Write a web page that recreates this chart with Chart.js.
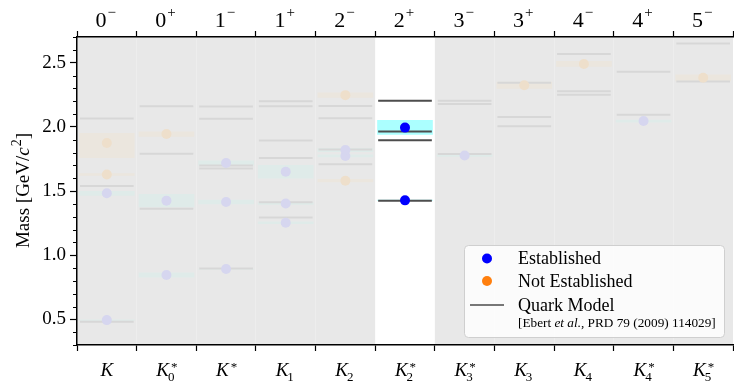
<!DOCTYPE html>
<html>
<head>
<meta charset="utf-8">
<script src="https://cdn.jsdelivr.net/npm/chart.js@4.4.0/dist/chart.umd.min.js"></script>
<style>
  html, body { margin: 0; padding: 0; overflow: hidden; background: #fff; }
</style>
</head>
<body>
<canvas id="kaons" width="738" height="382"></canvas>
<script>
'use strict';

// columns of the plot: particle names (bottom) and J^P (top)
const particles = ['K', 'K_0^*', 'K^*', 'K_1', 'K_2', 'K_2^*', 'K_3^*', 'K_3', 'K_4', 'K_4^*', 'K_5^*'];
const spinParity = ['0-', '0+', '1-', '1+', '2-', '2+', '3-', '3+', '4-', '4+', '5-'];
const highlight = 5;

// established states (GeV)
const estColumn = [0, 0, 1, 1, 2, 2, 2, 3, 3, 3, 4, 4, 5, 5, 6, 9];
const estMass = [0.494, 1.482, 0.845, 1.425, 0.892, 1.414, 1.718, 1.253, 1.403, 1.650, 1.773, 1.819, 1.427, 1.994, 1.776, 2.045];
const estLow = [0.4925, 1.466, 0.828, 1.375, 0.8915, 1.399, 1.700, 1.246, 1.396, 1.600, 1.765, 1.807, 1.4258, 1.940, 1.769, 2.037];
const estHigh = [0.4955, 1.498, 0.862, 1.475, 0.8925, 1.429, 1.736, 1.260, 1.410, 1.700, 1.781, 1.831, 1.4288, 2.050, 1.783, 2.053];

// not established states (GeV)
const nestColumn = [0, 0, 1, 4, 4, 7, 8, 10];
const nestMass = [1.629, 1.874, 1.944, 1.580, 2.247, 2.324, 2.490, 2.382];
const nestLow = [1.622, 1.760, 1.926, 1.570, 2.230, 2.300, 2.470, 2.358];
const nestHigh = [1.636, 1.950, 1.962, 1.590, 2.264, 2.348, 2.510, 2.406];

// quark model predictions, Ebert et al.
const qmColumn = [0, 0, 0, 1, 1, 1, 2, 2, 2, 2, 2, 3, 3, 3, 3, 3, 3, 4, 4, 4, 4, 5, 5, 5, 5, 6, 6, 6, 7, 7, 7, 8, 8, 8, 9, 9, 10, 10];
const qmMass = [0.482, 1.538, 2.065, 1.362, 1.791, 2.160, 0.897, 1.675, 1.699, 2.063, 2.159,
  1.294, 1.412, 1.757, 1.893, 2.160, 2.200, 1.709, 1.824, 2.066, 2.163,
  1.424, 1.896, 1.964, 2.203, 1.789, 2.177, 2.203, 2.004, 2.076, 2.343,
  2.250, 2.278, 2.567, 2.095, 2.430, 2.353, 2.650];

const legendLabels = ['Established', 'Not Established', 'Quark Model'];
const legendNote = '[Ebert et al., PRD 79 (2009) 114029]';

const serif = '"Liberation Serif", "DejaVu Serif", serif';
const half = 0.45;

const isHi = (x) => Math.round(x) === highlight;

const estPoints = estColumn.map((c, i) => ({x: c, y: estMass[i]}));
const nestPoints = nestColumn.map((c, i) => ({x: c, y: nestMass[i]}));
const estBands = estColumn.map((c, i) => ({x: c, y: [estLow[i], estHigh[i]]}));
const nestBands = nestColumn.map((c, i) => ({x: c, y: [nestLow[i], nestHigh[i]]}));
const qmSegments = qmColumn.flatMap((c, i) => [
  {x: c - half, y: qmMass[i]}, {x: c + half, y: qmMass[i]}, {x: c, y: null}
]);

function drawScripted(ctx, main, sub, sup, x, base, mainFont, scriptFont, subDy, supDy, italic) {
  ctx.font = mainFont;
  const wm = ctx.measureText(main).width;
  ctx.font = scriptFont;
  const ws = Math.max(sub ? ctx.measureText(sub).width : 0, sup ? ctx.measureText(sup).width : 0);
  const gap = (sub || sup) ? 1 : 0;
  const left = x - (wm + gap + ws) / 2;
  ctx.textAlign = 'left';
  ctx.textBaseline = 'alphabetic';
  ctx.font = mainFont;
  ctx.fillText(main, left, base);
  ctx.font = scriptFont;
  if (sub) ctx.fillText(sub, left + wm + gap - (italic ? 2 : 0), base + subDy);
  if (sup) ctx.fillText(sup, left + wm + gap + (italic ? 1 : 0), base + supDy);
}

const backdrop = {
  id: 'backdrop',
  beforeDraw(chart) {
    const {ctx, chartArea: a, scales: {x}} = chart;
    ctx.save();
    ctx.fillStyle = '#e8e8e8';
    ctx.fillRect(a.left, a.top, a.right - a.left, a.bottom - a.top);
    const x0 = x.getPixelForValue(highlight - 0.5);
    const x1 = x.getPixelForValue(highlight + 0.5);
    ctx.fillStyle = '#ffffff';
    ctx.fillRect(x0, a.top, x1 - x0, a.bottom - a.top);
    ctx.restore();
  }
};

const decorations = {
  id: 'decorations',
  afterDraw(chart) {
    const {ctx, chartArea: a, scales: {x, y}} = chart;
    ctx.save();
    ctx.fillStyle = '#000';

    // minor ticks on mass axis
    ctx.strokeStyle = '#000';
    ctx.lineWidth = 1;
    for (let k = 3; k <= 27; k++) {
      if (k % 5 === 0) continue;
      const py = Math.round(y.getPixelForValue(k / 10)) + 0.5;
      ctx.beginPath();
      ctx.moveTo(a.left - 4, py);
      ctx.lineTo(a.left, py);
      ctx.stroke();
    }

    // J^P labels on top
    spinParity.forEach((lab, i) => {
      const px = x.getPixelForValue(i);
      const sign = lab[1] === '-' ? '\u2212' : '+';
      drawScripted(ctx, lab[0], null, sign, px - 1, 27, '22px ' + serif, '15px ' + serif, 0, -10, false);
    });

    // particle names at the bottom
    particles.forEach((lab, i) => {
      const px = x.getPixelForValue(i);
      const sub = (lab.match(/_(\d)/) || [])[1] || null;
      const sup = lab.includes('^*') ? '*' : null;
      drawScripted(ctx, 'K', sub, sup, px, 376, 'italic 19px ' + serif, '13px ' + serif, 4.5, -5, true);
    });

    // y axis title
    ctx.save();
    ctx.translate(29, (a.top + a.bottom) / 2);
    ctx.rotate(-Math.PI / 2);
    const parts = [['Mass [GeV/', '19px ', 0], ['c', 'italic 19px ', 0], ['2', '14px ', -8], [']', '19px ', 0]];
    let total = 0;
    parts.forEach(p => { ctx.font = p[1] + serif; total += ctx.measureText(p[0]).width; });
    let cx = -total / 2;
    ctx.textAlign = 'left';
    parts.forEach(p => {
      ctx.font = p[1] + serif;
      ctx.fillText(p[0], cx, p[2]);
      cx += ctx.measureText(p[0]).width + (p[0] === 'c' ? 1 : 0);
    });
    ctx.restore();

    // legend box
    const lw = 260, lh = 92;
    const lx = a.right - 9 - lw, ly = a.bottom - 8 - lh;
    ctx.beginPath();
    ctx.roundRect(lx + 0.5, ly + 0.5, lw, lh, 4);
    ctx.fillStyle = 'rgba(255,255,255,0.8)';
    ctx.fill();
    ctx.strokeStyle = '#cfcfcf';
    ctx.lineWidth = 1;
    ctx.stroke();

    const mx = lx + 23, tx = lx + 54;
    ctx.fillStyle = '#0000ff';
    ctx.beginPath(); ctx.arc(mx, ly + 13.5, 5, 0, Math.PI * 2); ctx.fill();
    ctx.fillStyle = '#ff7f0e';
    ctx.beginPath(); ctx.arc(mx, ly + 36, 5, 0, Math.PI * 2); ctx.fill();
    ctx.strokeStyle = '#777777';
    ctx.lineWidth = 2;
    ctx.beginPath(); ctx.moveTo(lx + 6, ly + 60); ctx.lineTo(lx + 40, ly + 60); ctx.stroke();

    ctx.fillStyle = '#000';
    ctx.font = '18px ' + serif;
    ctx.textAlign = 'left';
    ctx.fillText(legendLabels[0], tx, ly + 19);
    ctx.fillText(legendLabels[1], tx, ly + 42);
    ctx.fillText(legendLabels[2], tx, ly + 66);

    // small reference line, "et al." in italics, fitted to width
    const [pre, rest] = legendNote.split('et al.');
    const noteParts = [[pre, ''], ['et al.', 'italic '], [rest, '']];
    let w10 = 0;
    noteParts.forEach(p => { ctx.font = p[1] + '10px ' + serif; w10 += ctx.measureText(p[0]).width; });
    const fs = 10 * 198 / w10;
    let nx = tx;
    noteParts.forEach(p => {
      ctx.font = p[1] + fs.toFixed(2) + 'px ' + serif;
      ctx.fillText(p[0], nx, ly + 82);
      nx += ctx.measureText(p[0]).width;
    });

    ctx.restore();
  }
};

const xCommon = {
  type: 'linear',
  min: -0.5,
  max: 10.5,
  offset: false,
  ticks: { display: false, stepSize: 1, includeBounds: false },
  border: { color: '#000', width: 1.5 }
};

const chart = new Chart(document.getElementById('kaons').getContext('2d'), {
  type: 'bar',
  data: {
    datasets: [
      {
        type: 'scatter',
        label: 'Established',
        data: estPoints,
        order: 0,
        pointRadius: 5,
        pointHoverRadius: 5,
        borderWidth: 0,
        backgroundColor: (c) => c.raw && isHi(c.raw.x) ? '#0000ff' : '#d6d6ef'
      },
      {
        type: 'scatter',
        label: 'Not Established',
        data: nestPoints,
        order: 0,
        pointRadius: 5,
        pointHoverRadius: 5,
        borderWidth: 0,
        backgroundColor: (c) => c.raw && isHi(c.raw.x) ? '#ff7f0e' : '#eedfcb'
      },
      {
        type: 'line',
        label: 'Quark Model',
        data: qmSegments,
        order: 1,
        spanGaps: false,
        pointRadius: 0,
        borderWidth: 2,
        borderColor: '#555555',
        segment: {
          borderColor: (c) => isHi(c.p0.parsed.x) ? '#4d4d4d' : '#d7d7d7'
        }
      },
      {
        label: 'Established band',
        data: estBands,
        order: 2,
        grouped: false,
        barThickness: 55,
        borderWidth: 0,
        backgroundColor: (c) => c.raw && isHi(c.raw.x) ? 'rgba(0,255,255,0.33)' : '#dfebe9'
      },
      {
        label: 'Not established band',
        data: nestBands,
        order: 2,
        grouped: false,
        barThickness: 55,
        borderWidth: 0,
        backgroundColor: (c) => c.raw && isHi(c.raw.x) ? 'rgba(255,165,0,0.3)' : '#ebe6de'
      }
    ]
  },
  options: {
    responsive: false,
    animation: false,
    layout: { padding: { left: 0, right: 1, top: 0, bottom: 0 } },
    plugins: {
      legend: { display: false },
      tooltip: { enabled: false }
    },
    scales: {
      x: Object.assign({}, xCommon, {
        position: 'bottom',
        grid: {
          offset: false,
          color: (c) => c.tick && c.tick.value === highlight ? '#c8c8c8' : 'rgba(255,255,255,0.22)',
          lineWidth: (c) => c.tick && c.tick.value === highlight ? 1.5 : 1,
          tickLength: 6,
          tickColor: '#000',
          tickWidth: 1.2
        },
        afterFit: (s) => { s.height = 37; }
      }),
      x2: Object.assign({}, xCommon, {
        position: 'top',
        grid: { offset: false, drawOnChartArea: false, tickLength: 6, tickColor: '#000', tickWidth: 1.2 },
        afterFit: (s) => { s.height = 37; }
      }),
      y: {
        min: 0.3,
        max: 2.7,
        ticks: {
          stepSize: 0.5,
          includeBounds: false,
          color: '#000',
          padding: 4,
          font: { family: serif, size: 19 },
          callback: (v) => v.toFixed(1)
        },
        grid: { drawOnChartArea: false, tickLength: 7, tickColor: '#000', tickWidth: 1.2 },
        border: { color: '#000', width: 1.5 },
        afterFit: (s) => { s.width = 77; }
      }
    }
  },
  plugins: [backdrop, decorations]
});
</script>
</body>
</html>
